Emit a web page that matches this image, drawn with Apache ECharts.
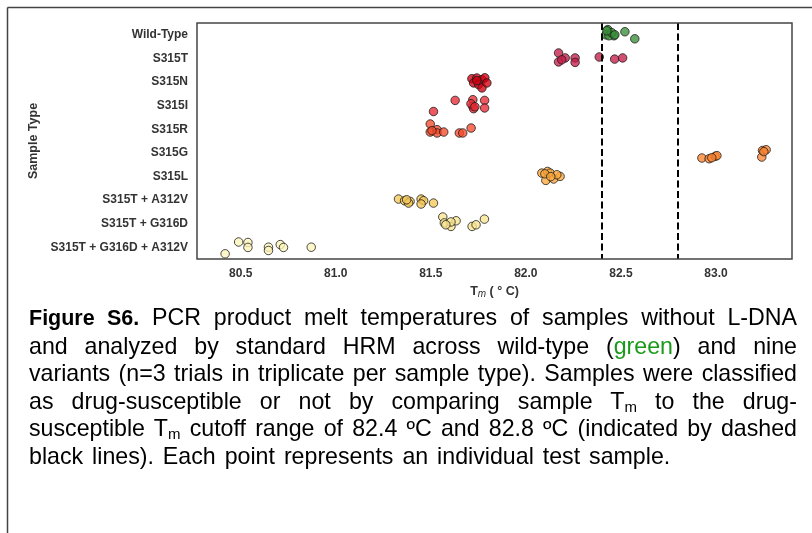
<!DOCTYPE html>
<html>
<head>
<meta charset="utf-8" />
<script src="https://cdn.jsdelivr.net/npm/echarts@6.0.0/dist/echarts.min.js"></script>
<style>
  body,
  html {
    margin: 0;
    padding: 0;
    background: #fff;
    overflow: hidden;
  }
  #chart-content {
    position: absolute;
    left: 0;
    top: 0;
    width: 812px;
    height: 533px;
  }
  /* legenda da figura, linhas justificadas como no original */
  #caption {
    position: absolute;
    left: 29px;
    top: 304px;
    width: 768px;
    font-family: "Liberation Sans", Arial, sans-serif;
    font-size: 23.2px;
    line-height: 27.5px;
    color: #000;
  }
  #caption div {
    white-space: nowrap;
    text-align: justify;
    text-align-last: justify;
  }
  #caption b {
    font-size: 21.5px;
  }
  #caption div.last {
    text-align-last: left;
    word-spacing: 2.5px;
  }
  #caption sub {
    font-size: 15px;
    vertical-align: -3px;
    line-height: 0;
  }
  .green {
    color: #1a9a1a;
  }
</style>
</head>
<body>
<div id="chart-content"></div>
<div id="caption">
  <div><b>Figure S6.</b> PCR product melt temperatures of samples without L-DNA</div>
  <div>and analyzed by standard HRM across wild-type (<span class="green">green</span>) and nine</div>
  <div>variants (n=3 trials in triplicate per sample type). Samples were classified</div>
  <div>as drug-susceptible or not by comparing sample T<sub>m</sub> to the drug-</div>
  <div>susceptible T<sub>m</sub> cutoff range of 82.4 ºC and 82.8 ºC (indicated by dashed</div>
  <div class="last">black lines). Each point represents an individual test sample.</div>
</div>

<script>
  var categories = [
    "Wild-Type",
    "S315T",
    "S315N",
    "S315I",
    "S315R",
    "S315G",
    "S315L",
    "S315T + A312V",
    "S315T + G316D",
    "S315T + G316D + A312V",
  ];
  var xTicks = [80.5, 81.0, 81.5, 82.0, 82.5, 83.0];
  var cutoffs = [82.4, 82.8];

  // Tm de cada amostra (ºC) e deslocamento vertical (jitter)
  var tmWildType = [82.431, 82.421, 82.463, 82.437, 82.521, 82.573, 82.452, 82.426, 82.468];
  var jitWildType = [-0.22, 0, 0.04, 0.04, -0.13, 0.17, -0.09, -0.17, 0];
  var tmS315T = [82.172, 82.172, 82.207, 82.259, 82.259, 82.386, 82.467, 82.509, 82.189];
  var jitS315T = [-0.23, 0.15, -0.02, -0.02, 0.17, -0.06, 0.03, -0.02, 0.06];
  var tmS315N = [81.716, 81.742, 81.769, 81.784, 81.725, 81.751, 81.769, 81.795, 81.742];
  var jitS315N = [-0.14, -0.17, -0.1, -0.18, 0.04, 0.11, 0.25, 0.04, -0.06];
  var tmS315I = [81.628, 81.721, 81.783, 81.721, 81.725, 81.783, 81.514, 81.711, 81.732];
  var jitS315I = [-0.22, -0.25, -0.22, 0.03, 0.13, 0.1, 0.25, -0.08, 0.05];
  var tmS315R = [81.497, 81.497, 81.533, 81.533, 81.568, 81.65, 81.668, 81.712, 81.506];
  var jitS315R = [-0.22, 0.12, 0.02, 0.16, 0.12, 0.16, 0.16, -0.05, 0.06];
  var tmS315G = [82.926, 82.964, 82.996, 83.005, 83.241, 83.245, 83.264, 82.978, 83.252];
  var jitS315G = [0.22, 0.25, 0.15, 0.12, 0.18, -0.1, -0.13, 0.21, -0.05];
  var tmS315L = [82.084, 82.114, 82.128, 82.105, 82.146, 82.18, 82.163, 82.1, 82.131];
  var jitS315L = [-0.14, -0.21, -0.14, 0.17, 0.11, 0, -0.07, -0.11, 0.01];
  var tmA312V = [81.33, 81.362, 81.391, 81.383, 81.449, 81.462, 81.449, 81.514, 81.373];
  var jitA312V = [-0.04, 0.03, 0.06, 0.13, -0.04, 0.03, 0.17, 0.13, -0.01];
  var tmG316D = [81.563, 81.571, 81.606, 81.633, 81.606, 81.717, 81.738, 81.782, 81.579];
  var jitG316D = [-0.28, -0.03, 0.12, -0.12, -0.07, 0.12, 0.05, -0.19, 0.05];
  var tmTriple = [80.418, 80.489, 80.538, 80.538, 80.646, 80.646, 80.708, 80.725, 80.871];
  var jitTriple = [0.28, -0.22, -0.2, 0.01, 0, 0.14, -0.11, 0.01, 0];

  var colors = [
    "#3a8f3a",
    "#c41e48",
    "#d00010",
    "#e82a34",
    "#f44a2c",
    "#fc8430",
    "#fca83c",
    "#f5c85a",
    "#f8e48e",
    "#fcf4b8",
  ];

  var tmAll = [tmWildType, tmS315T, tmS315N, tmS315I, tmS315R, tmS315G, tmS315L, tmA312V, tmG316D, tmTriple];
  var jitAll = [jitWildType, jitS315T, jitS315N, jitS315I, jitS315R, jitS315G, jitS315L, jitA312V, jitG316D, jitTriple];

  // se alguma linha da legenda passar da largura, reduz a fonte só dela
  document.querySelectorAll("#caption div").forEach(function (el) {
    var size = 23.2;
    while (el.scrollWidth > 768 && size > 18) {
      size -= 0.2;
      el.style.fontSize = size + "px";
    }
  });

  var series = [];
  tmAll.forEach(function (tms, i) {
    var pts = [];
    tms.forEach(function (t, j) {
      pts.push([t, i + jitAll[i][j]]);
    });
    series.push({
      name: categories[i],
      type: "scatter",
      xAxisIndex: 0,
      yAxisIndex: 1,
      symbolSize: 8.5,
      itemStyle: {
        color: colors[i],
        opacity: 0.78,
        borderColor: "#1a1a1a",
        borderWidth: 1,
      },
      data: pts,
      z: 2,
    });
  });

  // linhas de corte tracejadas
  series.push({
    type: "scatter",
    xAxisIndex: 0,
    yAxisIndex: 1,
    data: [],
    z: 5,
    markLine: {
      silent: true,
      symbol: "none",
      label: { show: false },
      lineStyle: { color: "#000", type: [7, 3.5], width: 2 },
      data: cutoffs.map(function (c) {
        return { xAxis: c };
      }),
    },
  });

  var chart = echarts.init(document.getElementById("chart-content"), null, {
    renderer: "canvas",
  });

  var labelFont = {
    fontFamily: "Liberation Sans, Arial, sans-serif",
    fontWeight: "bold",
    fontSize: 12,
    color: "#333",
  };

  chart.setOption({
    animation: false,
    backgroundColor: "#fff",
    grid: {
      left: 197,
      top: 23,
      right: 20,
      bottom: 274,
      show: true,
      borderColor: "#444",
      borderWidth: 1.5,
      z: 10,
    },
    xAxis: {
      type: "value",
      min: 80.27,
      max: 83.4,
      splitLine: { show: false },
      axisLine: { show: false },
      axisTick: { show: false },
      axisLabel: Object.assign({}, labelFont, {
        margin: 9,
        customValues: xTicks,
        formatter: function (v) {
          return v.toFixed(1);
        },
      }),
      name: "{t|T}{s|m}{t| ( ° C)}",
      nameLocation: "middle",
      nameGap: 26,
      nameTextStyle: {
        rich: {
          t: {
            fontFamily: "Liberation Sans, Arial, sans-serif",
            fontSize: 12.5,
            fontWeight: "bold",
            color: "#333",
          },
          s: {
            fontFamily: "Liberation Sans, Arial, sans-serif",
            fontSize: 10,
            fontStyle: "italic",
            color: "#333",
            padding: [4, 0, 0, 0],
          },
        },
      },
    },
    yAxis: [
      {
        type: "category",
        inverse: true,
        data: categories,
        axisLine: { show: false },
        axisTick: { show: false },
        splitLine: { show: false },
        axisLabel: Object.assign({}, labelFont, { margin: 9 }),
        name: "Sample Type",
        nameLocation: "middle",
        nameRotate: 90,
        nameGap: 153,
        nameTextStyle: Object.assign({}, labelFont, { fontSize: 12.5 }),
      },
      {
        type: "value",
        inverse: true,
        min: -0.5,
        max: 9.5,
        show: false,
      },
    ],
    graphic: [
      {
        type: "line",
        shape: { x1: 7.5, y1: 7.5, x2: 812, y2: 7.5 },
        style: { stroke: "#444", lineWidth: 1.5 },
      },
      {
        type: "line",
        shape: { x1: 7.5, y1: 7.5, x2: 7.5, y2: 533 },
        style: { stroke: "#444", lineWidth: 1.5 },
      },
    ],
    series: series,
  });
</script>
</body>
</html>
